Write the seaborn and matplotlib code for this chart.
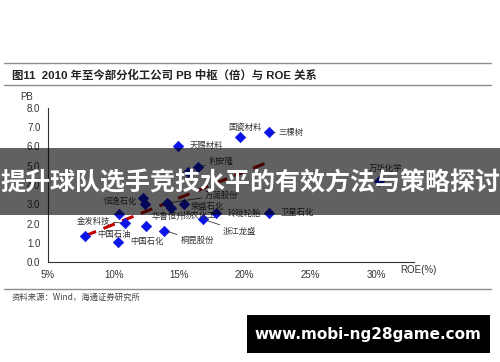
import matplotlib
matplotlib.use("Agg")
import matplotlib.pyplot as plt
from matplotlib.patches import Rectangle
from matplotlib.lines import Line2D
import seaborn as sns
import pandas as pd
import numpy as np

# ---------------- data ----------------
companies = ["国瓷材料", "三棵树", "天赐材料", "利安隆", "", "", "", "恒逸石化",
             "万润股份", "扬农化工", "荣盛石化", "金发科技", "中国石油", "中国石化",
             "华鲁恒升", "桐昆股份", "浙江龙盛", "玲珑轮胎", "卫星石化", "万华化学"]
roe = [19.66, 21.82, 14.90, 16.43, 15.66, 12.27, 12.40, 10.42,
       14.06, 14.39, 15.40, 10.88, 7.82, 10.37,
       12.48, 13.88, 16.81, 17.82, 21.82, 30.21]
pb = [6.49, 6.73, 6.04, 4.93, 4.67, 3.32, 3.01, 2.48,
      3.06, 2.83, 3.01, 2.03, 1.35, 1.06,
      1.88, 1.63, 2.22, 2.54, 2.57, 4.22]
trend_roe = [7.8, 22.0]
trend_pb = [1.35, 5.25]
x_ticks = [5, 10, 15, 20, 25, 30]
y_ticks = [0, 1, 2, 3, 4, 5, 6, 7, 8]

title = "图11  2010 年至今部分化工公司 PB 中枢（倍）与 ROE 关系"
source = "资料来源：Wind，海通证券研究所"
banner = "提升球队选手竞技水平的有效方法与策略探讨"
watermark = "www.mobi-ng28game.com"

# ---------------- layout (label offsets in pixels, anchor, leader) ----------------
label_layout = {
    "国瓷材料": (5, 10, "center", False),
    "三棵树": (10, 0, "left", True),
    "天赐材料": (12, 0, "left", False),
    "利安隆": (11, 6, "left", True),
    "恒逸石化": (1, 13, "center", False),
    "万润股份": (38, 8, "left", True),
    "扬农化工": (12, -8, "left", False),
    "荣盛石化": (6, -2, "left", False),
    "金发科技": (-15, 1, "right", True),
    "中国石油": (12, 2, "left", False),
    "中国石化": (12, 0, "left", False),
    "华鲁恒升": (6, 9, "left", False),
    "桐昆股份": (16, -10, "left", True),
    "浙江龙盛": (20, -12, "left", True),
    "玲珑轮胎": (11, 0, "left", False),
    "卫星石化": (12, 0, "left", False),
    "万华化学": (7, 12, "center", False),
}

sns.set_style("white")
plt.rcParams["font.family"] = ["Liberation Sans", "Noto Sans CJK SC", "DejaVu Sans"]

W, H = 500, 362
fig = plt.figure(figsize=(W / 100, H / 100), dpi=100)
fig.patch.set_facecolor("white")


def fx(x):
    return x / W


def fy(y):
    return 1 - y / H


ax = fig.add_axes([fx(48), fy(262), fx(414) - fx(48), fy(108) - fy(262)])

df = pd.DataFrame({"company": companies, "ROE": roe, "PB": pb})
tr = pd.DataFrame({"ROE": trend_roe, "PB": trend_pb})

sns.lineplot(data=tr, x="ROE", y="PB", ax=ax, color="#c00000", lw=2.2,
             linestyle=(0, (4, 2.6)), zorder=2)
sns.scatterplot(data=df, x="ROE", y="PB", ax=ax, marker="D", s=28,
                color="#0a14e6", edgecolor="#0a14e6", linewidth=0.5, zorder=3)

for name, x, y in zip(companies, roe, pb):
    if name not in label_layout:
        continue
    dx, dy, ha, lead = label_layout[name]
    kw = {}
    if lead:
        kw["arrowprops"] = dict(arrowstyle="-", color="#333333", lw=0.6,
                                shrinkA=0, shrinkB=3)
    ax.annotate(name, xy=(x, y), xytext=(dx, dy), textcoords="offset pixels",
                ha=ha, va="center", fontsize=6, color="#333333",
                family=["Noto Sans CJK SC", "DejaVu Sans"], zorder=4, **kw)

ax.set_xlim(5, 32.9)
ax.set_ylim(0, 8)
ax.set_xticks(x_ticks)
ax.set_xticklabels([f"{t}%" for t in x_ticks])
ax.set_yticks(y_ticks)
ax.set_yticklabels([f"{t:.1f}" for t in y_ticks])
ax.set_xlabel("")
ax.set_ylabel("")
for s in ["top", "right"]:
    ax.spines[s].set_visible(False)
for s in ["left", "bottom"]:
    ax.spines[s].set_color("#333333")
    ax.spines[s].set_linewidth(0.8)
ax.tick_params(axis="both", direction="out", length=3.5, width=0.8,
               color="#333333", labelsize=7, labelcolor="#333333", pad=2)
ax.set_facecolor("white")

# axis titles
fig.text(fx(20), fy(97), "PB", fontsize=7, color="#333333", va="center", ha="left")
fig.text(fx(400), fy(270), "ROE(%)", fontsize=7, color="#333333", va="center", ha="left")

# chart title and rules
fig.text(fx(12), fy(75), title, fontsize=8.2, fontweight="bold", color="#222222",
         va="center", ha="left")
for yy in (63, 85, 289):
    fig.add_artist(Line2D([fx(4), fx(491)], [fy(yy), fy(yy)], color="#8c8c8c",
                          lw=1.0, transform=fig.transFigure))
fig.text(fx(12), fy(297), source, fontsize=6, color="#444444", va="center", ha="left",
         family=["Noto Sans CJK SC", "DejaVu Sans"])

# overlay banner
fig.add_artist(Rectangle((0, fy(215)), 1, fy(148) - fy(215), transform=fig.transFigure,
                         facecolor="black", alpha=0.62, edgecolor="none", zorder=10))
fig.text(0.5, fy(183), banner, fontsize=18, fontweight="bold", color="white",
         ha="center", va="center", family=["Noto Sans CJK SC", "DejaVu Sans"], zorder=11)

# watermark box
fig.add_artist(Rectangle((fx(247), fy(353)), fx(490) - fx(247), fy(315) - fy(353),
                         transform=fig.transFigure, facecolor="black", edgecolor="none",
                         zorder=10))
fig.text(fx(368), fy(334), watermark, fontsize=11, fontweight="bold", color="white",
         ha="center", va="center", family=["DejaVu Sans"], zorder=11)

fig.savefig("out.png", dpi=100)
